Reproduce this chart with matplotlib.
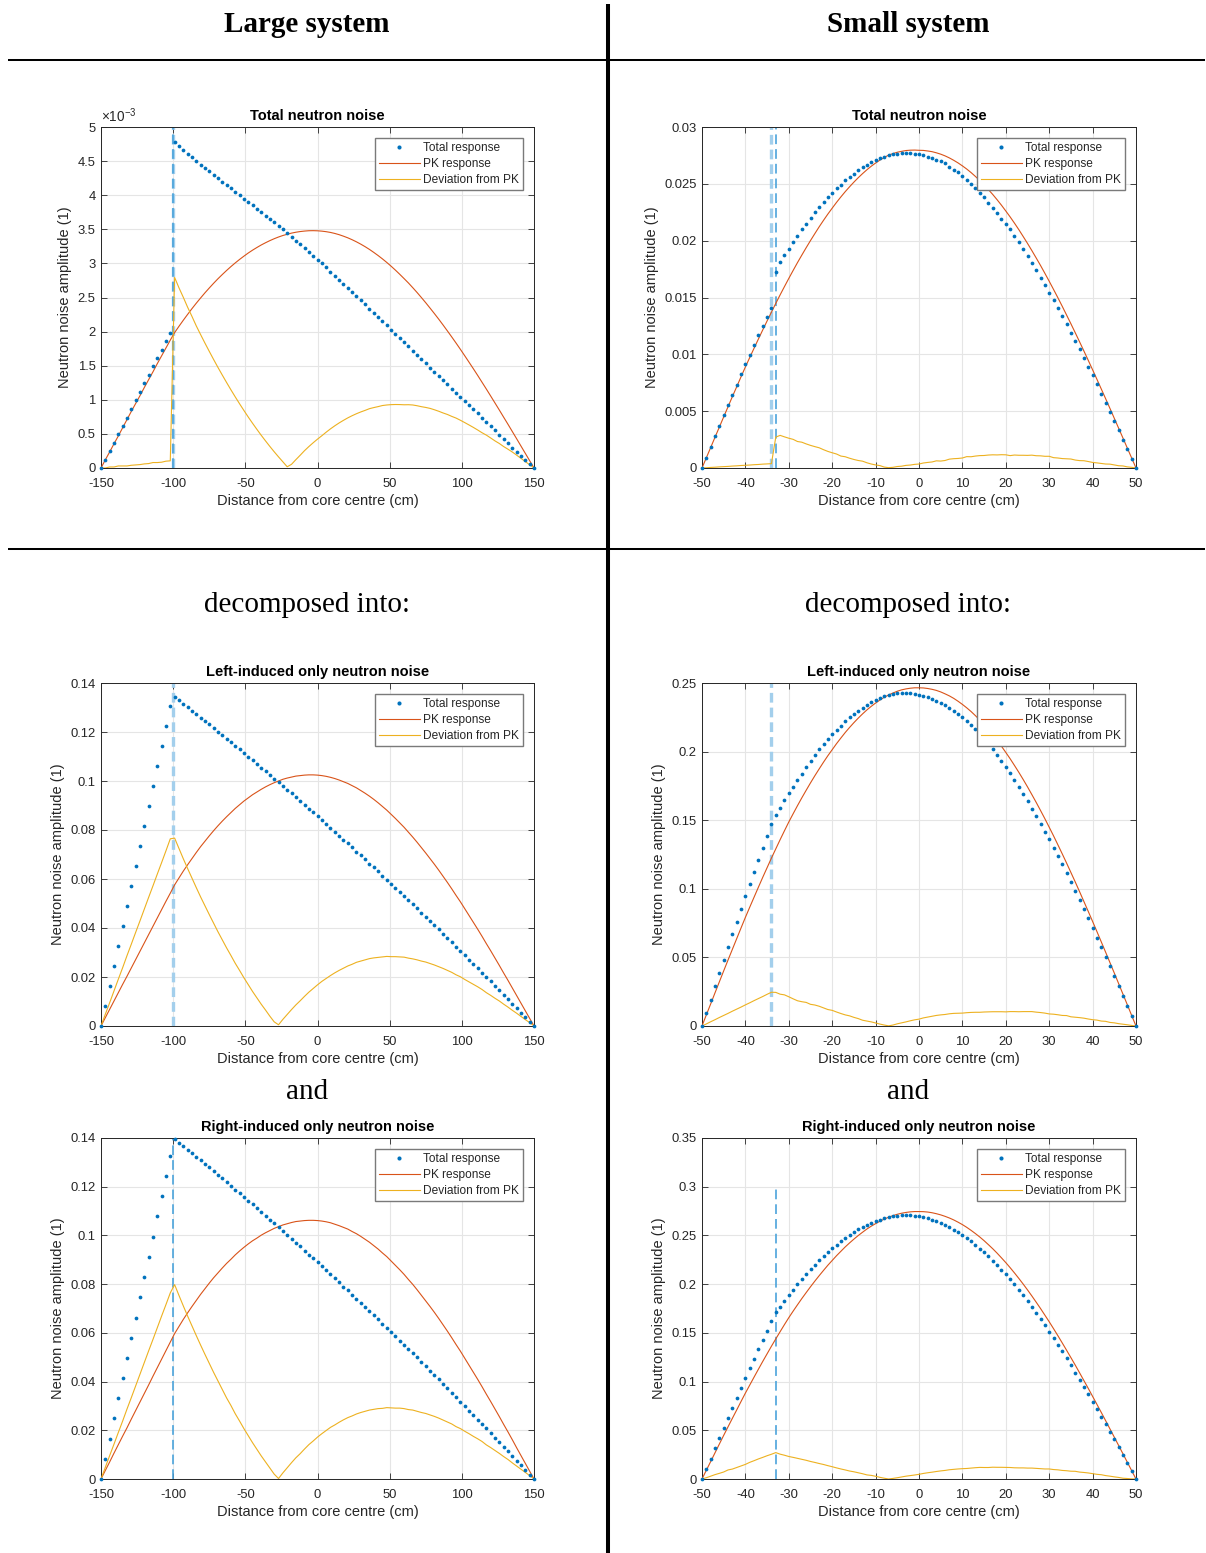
import numpy as np
import matplotlib.pyplot as plt
from matplotlib.lines import Line2D
from matplotlib.ticker import FuncFormatter

plt.rcParams['font.family'] = 'Liberation Sans'
plt.rcParams['axes.unicode_minus'] = False
plt.rcParams['lines.scale_dashes'] = False
plt.rcParams['mathtext.default'] = 'regular'

W, H = 1206, 1553

# ---------------- data ----------------
large_x = np.linspace(-150, 150, 101)
small_x = np.linspace(-50, 50, 101)

# large system, total neutron noise (units of 1e-3)
tl_total_e3 = [0, 0.12, 0.25, 0.37, 0.50, 0.62, 0.74, 0.87, 0.99, 1.11, 1.24, 1.36, 1.49, 1.61, 1.73, 1.86, 1.98,
               4.78, 4.72, 4.67, 4.61, 4.56, 4.50, 4.45, 4.40, 4.35, 4.30, 4.25, 4.20, 4.15, 4.10, 4.05, 4.00,
               3.95, 3.90, 3.85, 3.80, 3.75, 3.70, 3.65, 3.60, 3.55, 3.50, 3.445, 3.39, 3.335, 3.28, 3.22, 3.165,
               3.11, 3.055, 3.00, 2.94, 2.88, 2.82, 2.76, 2.70, 2.64, 2.58, 2.52, 2.46, 2.40, 2.335, 2.275, 2.215,
               2.15, 2.09, 2.03, 1.97, 1.91, 1.85, 1.785, 1.72, 1.66, 1.60, 1.535, 1.47, 1.41, 1.35, 1.29, 1.225,
               1.165, 1.10, 1.04, 0.98, 0.92, 0.86, 0.80, 0.74, 0.675, 0.615, 0.555, 0.49, 0.43, 0.365, 0.30, 0.24,
               0.18, 0.12, 0.06, 0.0]
tl_pk_e3 = [0, 0.12, 0.235, 0.355, 0.47, 0.59, 0.71, 0.83, 0.945, 1.06, 1.18, 1.295, 1.41, 1.53, 1.645, 1.76, 1.875,
            1.985, 2.077, 2.166, 2.252, 2.336, 2.416, 2.493, 2.568, 2.639, 2.708, 2.774, 2.836, 2.896, 2.953, 3.007, 3.058,
            3.106, 3.152, 3.194, 3.233, 3.270, 3.303, 3.334, 3.362, 3.387, 3.409, 3.427, 3.444, 3.457, 3.467, 3.474, 3.479,
            3.48, 3.478, 3.473, 3.465, 3.454, 3.439, 3.421, 3.399, 3.375, 3.347, 3.316, 3.282, 3.245, 3.205, 3.161, 3.115,
            3.066, 3.014, 2.959, 2.901, 2.840, 2.777, 2.713, 2.644, 2.573, 2.499, 2.423, 2.344, 2.264, 2.182, 2.097, 2.010,
            1.922, 1.832, 1.740, 1.646, 1.551, 1.455, 1.357, 1.257, 1.157, 1.055, 0.952, 0.849, 0.744, 0.640, 0.534, 0.428,
            0.321, 0.214, 0.107, 0]

# small system, total neutron noise (units of 1e-3)
tr_total_e3 = [0, 0.92, 1.85, 2.78, 3.70, 4.62, 5.53, 6.45, 7.34, 8.25, 9.13, 9.98, 10.83, 11.66, 12.49, 13.30, 14.09,
               17.2, 18.1, 18.7, 19.3, 19.9, 20.4, 21.0, 21.5, 22.0, 22.5, 23.0, 23.4, 23.8, 24.2, 24.6, 24.9,
               25.3, 25.6, 25.9, 26.2, 26.5, 26.7, 26.9, 27.1, 27.3, 27.4, 27.5, 27.6, 27.65, 27.7, 27.7, 27.7,
               27.65, 27.6, 27.5, 27.4, 27.3, 27.1, 27.0, 26.8, 26.5, 26.25, 26.0, 25.7, 25.3, 25.0, 24.6, 24.2,
               23.8, 23.35, 22.9, 22.45, 21.95, 21.45, 21.0, 20.4, 19.85, 19.25, 18.65, 18.0, 17.4, 16.75, 16.1, 15.4,
               14.8, 14.1, 13.4, 12.65, 11.9, 11.2, 10.45, 9.65, 8.9, 8.15, 7.35, 6.55, 5.75, 4.9, 4.1, 3.3,
               2.45, 1.65, 0.82, 0]
tr_pk_e3 = [0, 0.90, 1.80, 2.71, 3.60, 4.50, 5.39, 6.28, 7.15, 8.03, 8.89, 9.72, 10.54, 11.35, 12.15, 12.94, 13.71,
            14.48, 15.23, 15.96, 16.68, 17.38, 18.07, 18.73, 19.38, 20.01, 20.62, 21.22, 21.79, 22.34, 22.86, 23.37, 23.85,
            24.31, 24.74, 25.15, 25.54, 25.90, 26.24, 26.55, 26.83, 27.09, 27.32, 27.53, 27.66, 27.78, 27.86, 27.93, 27.96,
            27.97, 27.95, 27.94, 27.89, 27.83, 27.73, 27.61, 27.46, 27.28, 27.07, 26.84, 26.58, 26.30, 25.99, 25.65, 25.29,
            24.90, 24.49, 24.06, 23.60, 23.12, 22.61, 22.09, 21.54, 20.97, 20.37, 19.76, 19.13, 18.48, 17.82, 17.13, 16.43,
            15.71, 14.98, 14.23, 13.46, 12.69, 11.90, 11.10, 10.29, 9.47, 8.64, 7.80, 6.95, 6.10, 5.24, 4.37, 3.50,
            2.63, 1.75, 0.88, 0]

# large system, left-induced only
ml_total = [0, 0.0082, 0.0163, 0.0245, 0.0327, 0.0408, 0.0490, 0.0571, 0.0653, 0.0734, 0.0816, 0.0898, 0.0979, 0.1061, 0.1142, 0.1224, 0.1306,
            0.1343, 0.1329, 0.1315, 0.1301, 0.1287, 0.1273, 0.1259, 0.1245, 0.1231, 0.1217, 0.1202, 0.1188, 0.1173, 0.1159, 0.1144, 0.1130,
            0.1115, 0.1100, 0.1085, 0.1070, 0.1055, 0.1041, 0.1025, 0.1010, 0.0995, 0.0980, 0.0965, 0.0949, 0.0934, 0.0919, 0.0903, 0.0887,
            0.0872, 0.0856, 0.0840, 0.0825, 0.0809, 0.0793, 0.0777, 0.0761, 0.0745, 0.0729, 0.0712, 0.0696, 0.0680, 0.0663, 0.0647, 0.0631,
            0.0614, 0.0597, 0.0581, 0.0564, 0.0547, 0.0530, 0.0514, 0.0497, 0.0480, 0.0463, 0.0445, 0.0428, 0.0411, 0.0394, 0.0376, 0.0359,
            0.0341, 0.0324, 0.0306, 0.0289, 0.0271, 0.0253, 0.0235, 0.0217, 0.0200, 0.0182, 0.0164, 0.0145, 0.0127, 0.0109, 0.0091, 0.0072,
            0.0054, 0.0036, 0.0017, 0.0]
ml_pk = [0, 0.0034, 0.0068, 0.0102, 0.0136, 0.0170, 0.0203, 0.0237, 0.0271, 0.0305, 0.0339, 0.0373, 0.0407, 0.0441, 0.0475, 0.0509, 0.0542,
         0.0576, 0.0604, 0.0632, 0.0658, 0.0683, 0.0708, 0.0732, 0.0754, 0.0776, 0.0797, 0.0817, 0.0836, 0.0854, 0.0871, 0.0888, 0.0903,
         0.0918, 0.0931, 0.0944, 0.0955, 0.0966, 0.0976, 0.0985, 0.0993, 0.1000, 0.1007, 0.1012, 0.1016, 0.1020, 0.1022, 0.1024, 0.1025,
         0.1025, 0.1024, 0.1022, 0.1019, 0.1015, 0.1010, 0.1004, 0.0997, 0.0990, 0.0981, 0.0972, 0.0961, 0.0950, 0.0938, 0.0925, 0.0911,
         0.0896, 0.0881, 0.0864, 0.0847, 0.0829, 0.0811, 0.0791, 0.0771, 0.0750, 0.0728, 0.0706, 0.0683, 0.0660, 0.0636, 0.0611, 0.0586,
         0.0560, 0.0533, 0.0507, 0.0479, 0.0451, 0.0423, 0.0395, 0.0366, 0.0336, 0.0307, 0.0277, 0.0247, 0.0216, 0.0186, 0.0155, 0.0124,
         0.0093, 0.0062, 0.0031, 0]

# small system, left-induced only
mr_total = [0, 0.0096, 0.0192, 0.0288, 0.0384, 0.0479, 0.0573, 0.0667, 0.0760, 0.0853, 0.0946, 0.1035, 0.1124, 0.1212, 0.1299, 0.1385, 0.1470,
            0.1536, 0.159, 0.165, 0.170, 0.1745, 0.179, 0.184, 0.189, 0.193, 0.1977, 0.2018, 0.2055, 0.209, 0.2128, 0.216, 0.219,
            0.222, 0.225, 0.2274, 0.2298, 0.2317, 0.234, 0.236, 0.2376, 0.239, 0.2403, 0.2412, 0.242, 0.2424, 0.2427, 0.2427, 0.2424,
            0.242, 0.2415, 0.2405, 0.2395, 0.2383, 0.2369, 0.2354, 0.2337, 0.2317, 0.2296, 0.2274, 0.225, 0.2222, 0.2193, 0.2162, 0.213,
            0.2094, 0.2057, 0.2018, 0.1977, 0.1935, 0.1891, 0.1843, 0.1794, 0.1745, 0.1692, 0.1638, 0.1582, 0.1529, 0.1473, 0.1417, 0.1361,
            0.130, 0.1239, 0.1178, 0.1112, 0.1052, 0.0986, 0.0918, 0.085, 0.0784, 0.0716, 0.0645, 0.0577, 0.0504, 0.0436, 0.0363, 0.0292,
            0.0219, 0.0146, 0.0073, 0]
mr_pk = [0, 0.0081, 0.0161, 0.0242, 0.0322, 0.0402, 0.0481, 0.0559, 0.0637, 0.0715, 0.0792, 0.0866, 0.0939, 0.1012, 0.1084, 0.1154, 0.1224,
         0.1291, 0.1358, 0.1423, 0.1487, 0.1547, 0.1606, 0.1663, 0.1718, 0.1772, 0.1824, 0.1874, 0.1923, 0.1970, 0.2014, 0.2058, 0.2099,
         0.2139, 0.2176, 0.2211, 0.2244, 0.2275, 0.2304, 0.2330, 0.2354, 0.2376, 0.2396, 0.2413, 0.2427, 0.2440, 0.2450, 0.2457, 0.2462,
         0.2465, 0.2465, 0.2464, 0.2460, 0.2454, 0.2446, 0.2435, 0.2421, 0.2406, 0.2388, 0.2367, 0.2344, 0.2319, 0.2292, 0.2262, 0.2230,
         0.2196, 0.2160, 0.2122, 0.2081, 0.2039, 0.1994, 0.1948, 0.1899, 0.1849, 0.1797, 0.1743, 0.1687, 0.1630, 0.1571, 0.1511, 0.1449,
         0.1386, 0.1321, 0.1255, 0.1188, 0.1119, 0.1050, 0.0979, 0.0907, 0.0835, 0.0762, 0.0688, 0.0613, 0.0538, 0.0462, 0.0386, 0.0309,
         0.0232, 0.0155, 0.0077, 0]

# large system, right-induced only
bl_total = [0, 0.0083, 0.0166, 0.0249, 0.0332, 0.0414, 0.0497, 0.0580, 0.0663, 0.0746, 0.0829, 0.0912, 0.0995, 0.1078, 0.1161, 0.1243, 0.1326,
            0.1395, 0.1380, 0.1366, 0.1351, 0.1337, 0.1322, 0.1308, 0.1293, 0.1279, 0.1264, 0.1249, 0.1234, 0.1218, 0.1204, 0.1188, 0.1174,
            0.1158, 0.1143, 0.1127, 0.1111, 0.1096, 0.1081, 0.1065, 0.1049, 0.1034, 0.1018, 0.1002, 0.0986, 0.0970, 0.0955, 0.0938, 0.0921,
            0.0906, 0.0889, 0.0873, 0.0857, 0.0840, 0.0824, 0.0807, 0.0790, 0.0774, 0.0757, 0.0740, 0.0723, 0.0706, 0.0689, 0.0672, 0.0655,
            0.0638, 0.0620, 0.0603, 0.0586, 0.0568, 0.0551, 0.0534, 0.0516, 0.0499, 0.0481, 0.0462, 0.0445, 0.0427, 0.0409, 0.0391, 0.0373,
            0.0354, 0.0337, 0.0318, 0.0300, 0.0281, 0.0263, 0.0244, 0.0225, 0.0208, 0.0189, 0.0170, 0.0151, 0.0132, 0.0113, 0.0095, 0.0075,
            0.0056, 0.0037, 0.0018, 0.0]
bl_pk = [0, 0.0035, 0.0070, 0.0106, 0.0141, 0.0176, 0.0210, 0.0246, 0.0281, 0.0316, 0.0351, 0.0386, 0.0422, 0.0457, 0.0492, 0.0527, 0.0562,
         0.0597, 0.0626, 0.0655, 0.0682, 0.0708, 0.0733, 0.0758, 0.0781, 0.0804, 0.0826, 0.0846, 0.0866, 0.0885, 0.0902, 0.0920, 0.0936,
         0.0951, 0.0965, 0.0978, 0.0989, 0.1001, 0.1011, 0.1020, 0.1029, 0.1036, 0.1043, 0.1048, 0.1053, 0.1057, 0.1059, 0.1061, 0.1062,
         0.1062, 0.1061, 0.1059, 0.1056, 0.1052, 0.1046, 0.1040, 0.1033, 0.1026, 0.1016, 0.1007, 0.0996, 0.0984, 0.0972, 0.0958, 0.0944,
         0.0928, 0.0913, 0.0895, 0.0877, 0.0859, 0.0840, 0.0819, 0.0799, 0.0777, 0.0754, 0.0731, 0.0708, 0.0684, 0.0659, 0.0633, 0.0607,
         0.0580, 0.0552, 0.0525, 0.0496, 0.0467, 0.0438, 0.0409, 0.0379, 0.0348, 0.0318, 0.0287, 0.0256, 0.0224, 0.0193, 0.0161, 0.0128,
         0.0096, 0.0064, 0.0032, 0]

# small system, right-induced only
br_total = [0, 0.0103, 0.0208, 0.0314, 0.0417, 0.052, 0.0629, 0.0725, 0.0827, 0.093, 0.1032, 0.1135, 0.1234, 0.1333, 0.1429, 0.1524, 0.1617,
            0.1709, 0.1767, 0.1829, 0.1887, 0.1945, 0.2, 0.2054, 0.2105, 0.2153, 0.2201, 0.2246, 0.229, 0.2331, 0.2369, 0.2406, 0.244,
            0.2475, 0.2505, 0.2536, 0.2563, 0.2587, 0.2608, 0.2632, 0.2649, 0.2663, 0.2676, 0.2687, 0.2697, 0.2704, 0.2707, 0.2707, 0.2707,
            0.2704, 0.2697, 0.2687, 0.2676, 0.2663, 0.2646, 0.2628, 0.2608, 0.2584, 0.256, 0.2533, 0.2505, 0.2475, 0.244, 0.2403, 0.2365,
            0.2328, 0.2287, 0.2242, 0.2198, 0.215, 0.2102, 0.2051, 0.2, 0.1945, 0.1887, 0.1829, 0.1767, 0.1706, 0.1644, 0.1579, 0.1511,
            0.1446, 0.1377, 0.1309, 0.1237, 0.1166, 0.109, 0.1019, 0.0943, 0.0868, 0.0793, 0.0718, 0.0639, 0.0564, 0.0485, 0.0407, 0.0328,
            0.025, 0.0167, 0.0085, 0]
br_pk = [0, 0.0090, 0.0179, 0.0269, 0.0359, 0.0448, 0.0536, 0.0623, 0.0709, 0.0796, 0.0882, 0.0964, 0.1046, 0.1127, 0.1207, 0.1285, 0.1363,
         0.1438, 0.1512, 0.1585, 0.1656, 0.1723, 0.1788, 0.1852, 0.1913, 0.1973, 0.2031, 0.2087, 0.2141, 0.2194, 0.2243, 0.2292, 0.2337,
         0.2382, 0.2423, 0.2462, 0.2499, 0.2533, 0.2566, 0.2595, 0.2621, 0.2646, 0.2668, 0.2687, 0.2703, 0.2717, 0.2728, 0.2736, 0.2742,
         0.2745, 0.2745, 0.2744, 0.2740, 0.2733, 0.2723, 0.2711, 0.2696, 0.2679, 0.2659, 0.2636, 0.2611, 0.2583, 0.2552, 0.2519, 0.2484,
         0.2446, 0.2405, 0.2363, 0.2318, 0.2270, 0.2221, 0.2169, 0.2115, 0.2059, 0.2001, 0.1941, 0.1879, 0.1815, 0.1750, 0.1682, 0.1614,
         0.1543, 0.1471, 0.1397, 0.1322, 0.1246, 0.1169, 0.1090, 0.1010, 0.0930, 0.0848, 0.0766, 0.0683, 0.0599, 0.0514, 0.0429, 0.0344,
         0.0258, 0.0172, 0.0086, 0]

# perturbation positions (dashed markers): (position, kind)
tl_perturbations = [(-100, 'left'), (-100, 'right')]
tr_perturbations = [(-34, 'left'), (-33, 'right')]
ml_perturbations = [(-100, 'left')]
mr_perturbations = [(-34, 'left')]
bl_perturbations = [(-100, 'right')]
br_perturbations = [(-33, 'right')]
br_marker_top = 0.3

# ---------------- style ----------------
BLUE = '#0072BD'
ORANGE = '#D95319'
YELLOW = '#EDB120'
DARK = '#262626'
MARKER_STYLE = {'left': dict(color='#a3cfec', lw=2.4), 'right': dict(color='#4ba3db', lw=1.2)}

fig = plt.figure(figsize=(W / 100, H / 100), dpi=100)


def axes_at(left, top, right, bottom):
    return fig.add_axes([left / W, 1 - bottom / H, (right - left) / W, (bottom - top) / H])


def fig_line(x0, y0, x1, y1, lw):
    fig.add_artist(Line2D([x0 / W, x1 / W], [1 - y0 / H, 1 - y1 / H], transform=fig.transFigure,
                          color='black', lw=lw, solid_capstyle='butt'))


def panel(box, x, total, pk, perturbations, title, ylim, ystep, xstep, marker_top=None):
    ax = axes_at(*box)
    total = np.asarray(total, dtype=float)
    pk = np.asarray(pk, dtype=float)
    dev = np.abs(total - pk)
    top = ylim if marker_top is None else marker_top
    for pos, kind in perturbations:
        ax.plot([pos, pos], [0, top], linestyle=(0, (7, 3.6)), zorder=2, **MARKER_STYLE[kind])
    ax.plot(x, total, linestyle='none', marker='o', ms=2.7, mew=0, color=BLUE,
            label='Total response', zorder=4, clip_on=False)
    ax.plot(x, pk, color=ORANGE, lw=0.8, label='PK response', zorder=3)
    ax.plot(x, dev, color=YELLOW, lw=0.8, label='Deviation from PK', zorder=3)

    ax.set_xlim(x[0], x[-1])
    ax.set_ylim(0, ylim)
    ax.set_xticks(np.arange(x[0], x[-1] + 0.1, xstep))
    ax.set_yticks(np.arange(0, ylim + ystep * 0.01, ystep))
    fmt = FuncFormatter(lambda v, p: f'{round(v, 6):g}')
    ax.xaxis.set_major_formatter(fmt)
    ax.yaxis.set_major_formatter(fmt)
    ax.grid(True, color='#e5e5e5', lw=0.8)
    ax.set_axisbelow(True)
    ax.tick_params(direction='in', length=4, width=0.6, top=True, right=True,
                   labelsize=9.4, colors=DARK, pad=4)
    ax.tick_params(axis='x', pad=7)
    for s in ax.spines.values():
        s.set_color(DARK)
        s.set_linewidth(0.7)
    ax.set_title(title, fontsize=10.5, fontweight='bold', color='black', pad=5)
    ax.set_xlabel('Distance from core centre (cm)', fontsize=10.5, color=DARK, labelpad=3)
    ax.set_ylabel('Neutron noise amplitude (1)', fontsize=10.5, color=DARK, labelpad=4)
    leg = ax.legend(loc='upper right', fontsize=8.6, fancybox=False, framealpha=1,
                    borderaxespad=0.9, borderpad=0.35, labelspacing=0.35,
                    handlelength=3.4, handletextpad=0.3, numpoints=1, markerscale=1.1)
    leg.get_frame().set_edgecolor('#7a7a7a')
    leg.get_frame().set_linewidth(1.0)
    for t in leg.get_texts():
        t.set_color(DARK)
    return ax


ax_tl = panel((101, 127, 534, 468), large_x, tl_total_e3, tl_pk_e3, tl_perturbations,
              'Total neutron noise', 5, 0.5, 50)
ax_tl.text(0.0, 1.006, r'$\times10^{-3}$', transform=ax_tl.transAxes, fontsize=9.8,
           color=DARK, ha='left', va='bottom')
panel((702, 127, 1136, 468), small_x, np.array(tr_total_e3) * 1e-3, np.array(tr_pk_e3) * 1e-3,
      tr_perturbations, 'Total neutron noise', 0.03, 0.005, 10)
panel((101, 683, 534, 1026), large_x, ml_total, ml_pk, ml_perturbations,
      'Left-induced only neutron noise', 0.14, 0.02, 50)
panel((702, 683, 1136, 1026), small_x, mr_total, mr_pk, mr_perturbations,
      'Left-induced only neutron noise', 0.25, 0.05, 10)
panel((101, 1138, 534, 1479), large_x, bl_total, bl_pk, bl_perturbations,
      'Right-induced only neutron noise', 0.14, 0.02, 50)
panel((702, 1138, 1136, 1479), small_x, br_total, br_pk, br_perturbations,
      'Right-induced only neutron noise', 0.35, 0.05, 10, marker_top=br_marker_top)

# ---------------- frame and headings ----------------
fig_line(8, 60, 1205, 60, 1.45)
fig_line(8, 549, 1205, 549, 1.45)
fig_line(608, 4, 608, H, 2.9)

serif = 'Liberation Serif'
for cx, name in [(307, 'Large system'), (908, 'Small system')]:
    fig.text(cx / W, 1 - 32 / H, name, ha='center', va='baseline', fontsize=21,
             fontweight='bold', family=serif)
    fig.text(cx / W, 1 - 612 / H, 'decomposed into:', ha='center', va='baseline',
             fontsize=21, family=serif)
    fig.text(cx / W, 1 - 1099 / H, 'and', ha='center', va='baseline', fontsize=21,
             family=serif)

fig.savefig('out.png', dpi=100)
